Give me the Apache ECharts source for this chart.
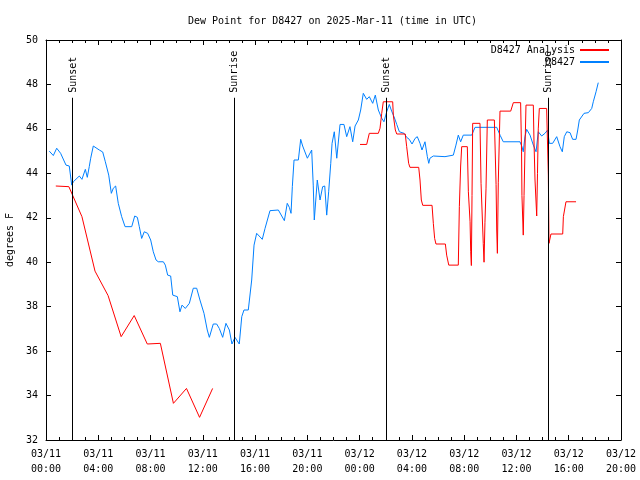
<!DOCTYPE html>
<html><head><meta charset="utf-8">
<script src="https://cdn.jsdelivr.net/npm/echarts/dist/echarts.min.js"></script>
<style>html,body{margin:0;padding:0;background:#fff}#c{width:640px;height:480px}</style>
</head><body><div id="c"></div>
<script>
// hours since 03/11 00:00 UTC
const tickLabels = ['03/11\n00:00','03/11\n04:00','03/11\n08:00','03/11\n12:00','03/11\n16:00','03/11\n20:00','03/12\n00:00','03/12\n04:00','03/12\n08:00','03/12\n12:00','03/12\n16:00','03/12\n20:00'];

const obsTimes = [0.25,0.56,0.82,1.12,1.53,1.78,1.97,2.09,2.55,2.75,3.01,3.16,3.31,3.42,3.62,3.75,4.08,4.34,4.54,4.80,5.00,5.15,5.33,5.53,5.79,6.05,6.56,6.79,6.99,7.14,7.32,7.52,7.78,8.01,8.21,8.42,8.59,8.98,9.13,9.31,9.54,9.70,10.05,10.25,10.41,10.66,10.97,11.27,11.53,11.78,12.09,12.34,12.50,12.80,13.06,13.26,13.52,13.77,14.03,14.23,14.46,14.59,14.79,14.98,15.15,15.48,15.74,15.92,16.12,16.25,16.55,16.76,17.14,17.78,18.24,18.46,18.62,18.75,18.85,18.98,19.31,19.49,19.64,20.00,20.33,20.45,20.53,20.76,20.97,21.17,21.33,21.48,21.63,21.79,21.89,22.06,22.25,22.50,22.80,23.01,23.26,23.47,23.65,23.90,24.08,24.28,24.54,24.74,25.00,25.20,25.43,25.69,25.86,26.07,26.27,26.45,26.63,26.84,27.04,27.40,27.60,27.80,28.01,28.24,28.41,28.62,28.77,29.00,29.18,29.29,29.38,29.64,30.53,31.17,31.37,31.55,31.73,31.93,32.58,32.83,34.49,34.76,34.99,36.27,36.42,36.52,36.65,36.78,37.04,37.29,37.50,37.67,37.93,38.18,38.39,38.51,38.77,39.08,39.33,39.51,39.66,39.85,40.10,40.30,40.56,40.69,40.81,41.17,41.50,41.76,41.88,42.09,42.26];
const obsValues = [45.0,44.8,45.13,44.9,44.37,44.33,43.47,43.62,43.88,43.73,44.18,43.82,44.3,44.68,45.23,45.26,45.05,44.96,44.52,43.92,43.1,43.33,43.43,42.65,42.05,41.6,41.6,42.08,42.02,41.6,41.07,41.37,41.3,41.0,40.47,40.1,40.02,40.02,39.87,39.42,39.38,38.52,38.45,37.77,38.07,37.92,38.15,38.83,38.83,38.3,37.7,36.95,36.62,37.22,37.22,37.02,36.62,37.25,36.95,36.32,36.62,36.55,36.32,37.55,37.85,37.85,39.2,40.77,41.3,41.37,41.03,41.52,42.32,42.35,41.87,42.65,42.47,42.2,43.4,44.6,44.6,45.53,45.23,44.68,45.05,43.47,41.9,43.7,42.8,43.4,43.43,42.12,43.17,44.45,45.35,45.87,44.68,46.2,46.2,45.65,46.1,45.42,46.13,46.4,46.85,47.6,47.33,47.45,47.15,47.52,46.85,46.48,46.32,46.77,47.1,46.8,46.55,46.2,45.87,45.8,45.62,45.53,45.32,45.57,45.65,45.35,45.05,45.42,44.75,44.45,44.68,44.78,44.75,44.82,45.27,45.72,45.42,45.72,45.72,46.07,46.07,45.7,45.42,45.42,45.2,44.97,45.65,45.98,45.72,45.27,44.97,45.87,45.68,45.8,45.95,45.35,45.35,45.65,45.2,44.97,45.65,45.87,45.83,45.53,45.53,45.95,46.4,46.7,46.73,46.92,47.22,47.67,48.08];

const anaTimes1 = [0.75,1.75,2.75,3.75,4.75,5.75,6.75,7.75,8.75,9.75,10.75,11.75,12.75];
const anaValues1 = [43.43,43.4,42.05,39.6,38.5,36.65,37.6,36.32,36.35,33.65,34.32,33.02,34.32];

const anaTimes2 = [24.03,24.54,24.74,25.43,25.56,25.69,25.81,26.53,26.58,26.73,26.84,27.49,27.60,27.75,27.85,28.52,28.62,28.72,28.83,29.54,29.64,29.74,29.84,30.56,30.66,30.82,31.55,31.63,31.73,31.81,32.24,32.32,32.45,32.50,32.55,32.60,32.65,33.21,33.29,33.46,33.52,33.59,33.67,33.77,34.31,34.44,34.49,34.54,34.61,34.74,35.56,35.76,36.32,36.39,36.42,36.52,36.58,36.65,36.73,37.29,37.34,37.42,37.55,37.61,37.67,37.75,38.31,38.37,38.44,38.49,38.64,39.54,39.59,39.79,40.56];
const anaValues2 = [45.3,45.3,45.8,45.8,46.03,46.7,47.22,47.22,46.6,45.95,45.77,45.77,45.2,44.45,44.27,44.27,43.7,42.8,42.56,42.56,41.75,41.07,40.82,40.82,40.32,39.87,39.87,42.5,44.33,45.2,45.2,43.17,41.82,40.47,39.85,43.0,46.25,46.25,43.55,40.85,40.0,41.8,43.3,46.4,46.4,43.5,41.45,40.4,43.6,46.8,46.8,47.18,47.18,45.0,43.0,41.22,43.0,45.0,47.07,47.07,45.5,43.7,42.08,44.0,46.0,46.92,46.92,45.5,43.92,40.85,41.27,41.27,42.05,42.72,42.72];

const eventTimes = [2.03, 14.41, 26.02, 38.44];
const eventNames = ['Sunset', 'Sunrise', 'Sunset', 'Sunrise'];
const eventTop = 47.4;

const FONT = 'DejaVu Sans Mono';
const anaData = anaTimes1.map((t,i)=>[t,anaValues1[i]]).concat([[null,null]]).concat(anaTimes2.map((t,i)=>[t,anaValues2[i]]));
const obsData = obsTimes.map((t,i)=>[t,obsValues[i]]);

const chart = echarts.init(document.getElementById('c'), null, {renderer:'canvas'});
const axisCommon = {
  axisLine:{show:true,onZero:false,lineStyle:{color:'#000',width:1}},
  axisTick:{show:true,inside:true,length:5,lineStyle:{color:'#000'}},
  splitLine:{show:false}
};
chart.setOption({
  animation:false,
  backgroundColor:'#fff',
  title:{text:'Dew Point for D8427 on 2025-Mar-11 (time in UTC)',left:183,top:11,
    textStyle:{fontFamily:FONT,fontSize:10,fontWeight:'normal',color:'#000'}},
  legend:{orient:'vertical',right:25,top:39,align:'right',itemWidth:29,itemHeight:12,itemGap:0,
    itemStyle:{color:'rgba(0,0,0,0)',borderWidth:0,opacity:0},
    textStyle:{fontFamily:FONT,fontSize:10,color:'#000',lineHeight:12},
    data:['D8427 Analysis','D8427']},
  grid:{left:46,right:19,top:40,bottom:40,outerBoundsMode:'none',containLabel:false},
  xAxis:[
    Object.assign({type:'value',min:0,max:44,interval:4,position:'bottom',
      minorTick:{show:true,splitNumber:4,length:3,lineStyle:{color:'#000'}},
      axisLabel:{fontFamily:FONT,fontSize:10,color:'#000',lineHeight:15,margin:7,
        formatter:v=>tickLabels[Math.round(v/4)]}},axisCommon),
    Object.assign({type:'value',min:0,max:44,interval:4,position:'top',
      minorTick:{show:true,splitNumber:4,length:3,lineStyle:{color:'#000'}},
      axisLabel:{show:false}},axisCommon)
  ],
  yAxis:[
    Object.assign({type:'value',min:32,max:50,interval:2,position:'left',
      name:'degrees F',nameLocation:'middle',nameGap:30,nameRotate:90,
      nameTextStyle:{fontFamily:FONT,fontSize:10,color:'#000'},
      axisLabel:{fontFamily:FONT,fontSize:10,color:'#000',margin:8}},axisCommon),
    Object.assign({type:'value',min:32,max:50,interval:2,position:'right',
      axisLabel:{show:false}},axisCommon)
  ],
  series:[
    {name:'D8427 Analysis',type:'line',data:anaData,symbol:'none',connectNulls:false,
      lineStyle:{color:'#ff0000',width:1},itemStyle:{color:'#ff0000'},z:3,
      markLine:{silent:true,symbol:'none',animation:false,
        lineStyle:{color:'#000',width:1,type:'solid'},label:{show:false},
        data:eventTimes.map(t=>[{coord:[t,32]},{coord:[t,eventTop]}])}},
    {name:'D8427',type:'line',data:obsData,symbol:'none',
      lineStyle:{color:'#0080ff',width:1},itemStyle:{color:'#0080ff'},z:2}
  ]
});
const gfx = eventTimes.map((t,i)=>{
  const p = chart.convertToPixel({xAxisIndex:0,yAxisIndex:0},[t,eventTop]);
  return {type:'text',x:Math.round(p[0]),y:p[1]-5,rotation:Math.PI/2,
    style:{text:eventNames[i],font:'10px '+FONT,fill:'#000',align:'left',verticalAlign:'middle'}};
});
chart.setOption({graphic:gfx});
</script></body></html>
